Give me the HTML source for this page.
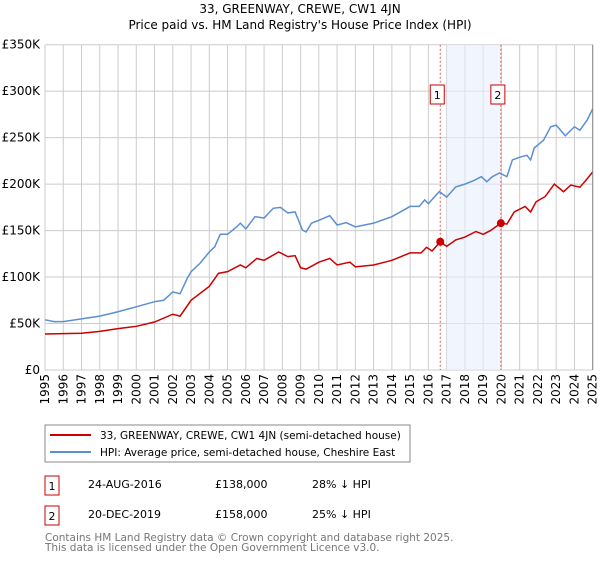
<!DOCTYPE html>
<html><head><meta charset="utf-8"><style>
body{margin:0;background:#fff;font-family:"DejaVu Sans","Liberation Sans",sans-serif;}
svg text{font-family:"DejaVu Sans","Liberation Sans",sans-serif;}
</style></head><body>
<svg id="chart" width="600" height="560">
<text x="300" y="13" text-anchor="middle" font-size="12">33, GREENWAY, CREWE, CW1 4JN</text>
<text x="300" y="29" text-anchor="middle" font-size="12">Price paid vs. HM Land Registry's House Price Index (HPI)</text>
<g id="grid"></g>
<g id="shade"></g>
<g id="lines"></g>
<g id="axes"></g>
<rect x="45" y="425" width="365" height="37" fill="#fff" stroke="#888"/>
<line x1="50" y1="435" x2="91" y2="435" stroke="#cc0000" stroke-width="2"/>
<text x="100" y="439" font-size="10.5">33, GREENWAY, CREWE, CW1 4JN (semi-detached house)</text>
<line x1="50" y1="452" x2="91" y2="452" stroke="#5b8fd4" stroke-width="2"/>
<text x="100" y="456" font-size="10.5">HPI: Average price, semi-detached house, Cheshire East</text>
<rect x="45" y="476" width="14" height="19" fill="#fff" stroke="#cc0000"/>
<text x="52" y="490" text-anchor="middle" font-size="11">1</text>
<text x="88" y="488" font-size="11">24-AUG-2016</text>
<text x="215" y="488" font-size="11">£138,000</text>
<text x="312" y="488" font-size="11">28% ↓ HPI</text>
<rect x="45" y="506" width="14" height="19" fill="#fff" stroke="#cc0000"/>
<text x="52" y="520" text-anchor="middle" font-size="11">2</text>
<text x="88" y="518" font-size="11">20-DEC-2019</text>
<text x="215" y="518" font-size="11">£158,000</text>
<text x="312" y="518" font-size="11">25% ↓ HPI</text>
<text x="45" y="541" font-size="10.5" fill="#777">Contains HM Land Registry data © Crown copyright and database right 2025.</text>
<text x="45" y="551" font-size="10.5" fill="#777">This data is licensed under the Open Government Licence v3.0.</text>
</svg>
<script>
const yTicks=[0,50,100,150,200,250,300,350];
const yTickLabels=["£0","£50K","£100K","£150K","£200K","£250K","£300K","£350K"];
const years=[1995,1996,1997,1998,1999,2000,2001,2002,2003,2004,2005,2006,2007,2008,2009,2010,2011,2012,2013,2014,2015,2016,2017,2018,2019,2020,2021,2022,2023,2024,2025];
const hpiT=[1995,1995.5,1996,1997,1998,1999,2000,2001,2001.5,2002,2002.4,2002.8,2003,2003.5,2004,2004.3,2004.6,2005,2005.5,2005.7,2006,2006.5,2007,2007.5,2007.9,2008.3,2008.7,2009.1,2009.3,2009.6,2010,2010.6,2011,2011.5,2012,2013,2014,2015,2015.5,2015.8,2016,2016.6,2017,2017.5,2018,2018.5,2018.9,2019.2,2019.5,2019.9,2020.3,2020.6,2021,2021.4,2021.6,2021.8,2022.3,2022.7,2023,2023.5,2024,2024.3,2024.7,2025];
const hpiV=[54,52,52,55,58,62.7,68,73.5,75,84,82,99,105.8,115,127,132.7,146,146,154,158,151.7,165,163.5,174,175,169,170,150.6,148.5,158,161,166,156,158.5,154,158,165,176,176,183,179,192,186,197,200,204,208,202.6,208,212,208,226,229,231,226,239,247,261.7,263.5,252,261.7,258,269,281];
const priceT=[1995,1997,1998,1999,2000,2001,2002,2002.4,2003,2004,2004.5,2005,2005.7,2006,2006.6,2007,2007.8,2008.3,2008.7,2009,2009.3,2010,2010.6,2011,2011.7,2012,2013,2014,2015,2015.6,2015.9,2016.2,2016.65,2017,2017.5,2018,2018.6,2019,2019.4,2019.97,2020.3,2020.7,2021.3,2021.6,2021.9,2022.4,2022.9,2023.4,2023.8,2024.3,2024.6,2025];
const priceV=[38.7,39.5,41.5,44.5,47,51.6,60,58,75,90,104,105.8,113,110,120,118,127,122,123,110,108.5,116,120,113,116,111,113,118,126,126,132,128,138,133,140,143,149,146,150,158,157,170,176,170,181,186.7,200,191.8,199,196.7,203.5,213];
const saleT=[2016.65,2019.97];
const saleV=[138,158];
const saleLabels=["1","2"];
const NS="http://www.w3.org/2000/svg";
const X0=45,X1=592.7,Y0=370,Y1=44.7;
const xs=t=>X0+(t-1995)/30*(X1-X0);
const ys=v=>Y0-v/350*(Y0-Y1);
function mk(tag,attrs,parent){const e=document.createElementNS(NS,tag);for(const k in attrs)e.setAttribute(k,attrs[k]);parent.appendChild(e);return e;}
const grid=document.getElementById('grid'),axes=document.getElementById('axes'),lines=document.getElementById('lines'),shade=document.getElementById('shade');
yTicks.forEach((v,i)=>{
 const l=mk('line',{x1:X0,x2:X1,y1:ys(v),y2:ys(v),stroke:'#ccc'},grid);
 
 
 const t=mk('text',{x:40,y:ys(v)+4,'text-anchor':'end','font-size':'12'},axes);
 t.textContent=yTickLabels[i];
 
 
});
years.forEach(y=>{
 const l=mk('line',{x1:xs(y),x2:xs(y),y1:Y1,y2:Y0,stroke:'#ccc'},grid);
 
 
 const t=mk('text',{x:0,y:0,'font-size':'12','text-anchor':'end',transform:`translate(${xs(y)+4},374) rotate(-90)`},axes);
 t.textContent=y;
 
 
});
const sh=mk('rect',{x:xs(2017),y:Y1,width:xs(saleT[1])-xs(2017),height:Y0-Y1,fill:'#e8eefc',opacity:0.6},shade);


saleT.forEach((t,i)=>{
 const l=mk('line',{x1:xs(t),x2:xs(t),y1:Y1,y2:Y0,stroke:'#e06060','stroke-dasharray':'2,2'},shade);
 
 
 const r=mk('rect',{x:xs(t)-10,y:85,width:14,height:19,fill:'#fff',stroke:'#cc0000'},shade);
 
 
 const tx=mk('text',{x:xs(t)-3,y:99,'text-anchor':'middle','font-size':'11'},shade);
 tx.textContent=saleLabels[i];
 
 
});
const hp=mk('polyline',{points:hpiT.map((t,i)=>xs(t)+','+ys(hpiV[i])).join(' '),fill:'none',stroke:'#5b8fd4','stroke-width':1.5},lines);


const pp=mk('polyline',{points:priceT.map((t,i)=>xs(t)+','+ys(priceV[i])).join(' '),fill:'none',stroke:'#cc0000','stroke-width':1.5},lines);


saleT.forEach((t,i)=>{
 const c=mk('circle',{cx:xs(t),cy:ys(saleV[i]),r:4,fill:'#cc0000'},lines);
 
 
});
const ax=mk('line',{x1:X1,x2:X1,y1:Y1,y2:Y0,stroke:'#888'},axes);


</script>
</body></html>
